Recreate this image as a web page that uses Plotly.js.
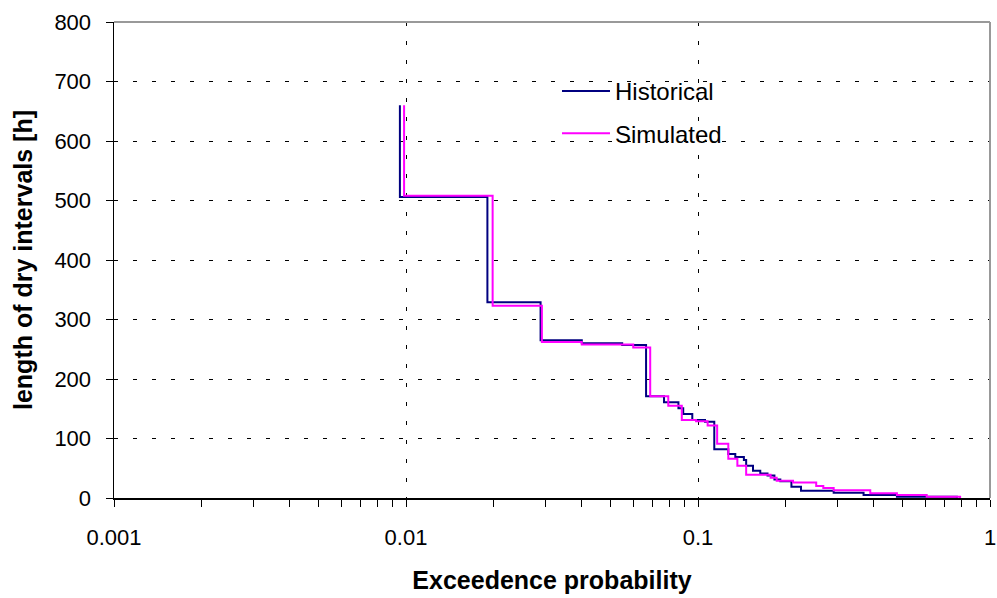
<!DOCTYPE html>
<html>
<head>
<meta charset="utf-8">
<script src="https://cdn.plot.ly/plotly-3.0.1.min.js"></script>
<style>html,body{margin:0;padding:0;background:#fff;}#chart{width:997px;height:598px;}</style>
</head>
<body>
<div id="chart"></div>
<script>
// Step points: (exceedance probability at which level starts, length of dry interval [h])
const histProb = [0.00953, 0.00953, 0.0190, 0.0289, 0.0400, 0.0550, 0.0664, 0.0765, 0.0857, 0.0890, 0.0956, 0.1057, 0.1137, 0.127, 0.1342, 0.1436, 0.1462, 0.1543, 0.1634, 0.173, 0.1827, 0.1914, 0.2089, 0.2253, 0.2915, 0.369, 0.48, 0.77];
const histLen  = [660,     506,     329,    265,    260,    257,    171,    161,    151,    141,    131,    128,    82,     74,    69,     64,     54,     46,     41,     38,    31,     28,     19,     12,     9,      5,     2,    0];

const simProb = [0.00985, 0.00985, 0.0198, 0.0292, 0.0400, 0.0600, 0.0686, 0.0791, 0.0880, 0.0985, 0.1079, 0.1163, 0.127, 0.1364, 0.1462, 0.1773, 0.186, 0.2115, 0.254, 0.2686, 0.2915, 0.389, 0.48, 0.607, 0.79];
const simLen  = [660,     508,     323,    262,    258,    253,    171,    155,    131,    129,    122,    91,     66,    54,     39,     34,     29,    26,     20,    17,     13,     8,     5,    2,     0];

const xTickVals = [0.001, 0.01, 0.1, 1];
const xTickText = ['0.001', '0.01', '0.1', '1'];
const seriesNames = ['Historical', 'Simulated'];

const FONT = 'Liberation Sans, Arial, sans-serif';

const traces = [
  {x: histProb, y: histLen, name: seriesNames[0], mode: 'lines', line: {shape: 'hv', color: '#000080', width: 2}, legendgroup: 'a'},
  {x: simProb, y: simLen, name: seriesNames[1], mode: 'lines', line: {shape: 'hv', color: '#FF00FF', width: 2}, legendgroup: 'b'}
];

const layout = {
  width: 997, height: 598,
  margin: {l: 114, r: 7, t: 22, b: 100, pad: 0},
  paper_bgcolor: '#fff', plot_bgcolor: '#fff',
  font: {family: FONT, color: '#000', size: 22},
  showlegend: true,
  legend: {
    x: 0.5057, y: 0.9015, xanchor: 'left', yanchor: 'top',
    bgcolor: 'rgba(0,0,0,0)', borderwidth: 0,
    font: {family: FONT, size: 24, color: '#000'},
    traceorder: 'grouped', tracegroupgap: 8, itemwidth: 48
  },
  xaxis: {
    type: 'log', range: [-3, 0],
    tickmode: 'array', tickvals: xTickVals, ticktext: xTickText,
    ticks: 'outside', ticklen: 7, tickwidth: 1, tickcolor: '#000',
    showline: true, linecolor: '#000', linewidth: 1.5,
    showgrid: true, gridcolor: '#000', gridwidth: 1, griddash: '4px,15px',
    minor: {ticks: 'outside', ticklen: 7, tickwidth: 1, tickcolor: '#000', dtick: 'D1', showgrid: false},
    tickfont: {family: FONT, size: 22, color: '#000'},
    ticklabelstandoff: 12,
    zeroline: false,
    title: {text: 'Exceedence probability', font: {family: FONT, size: 25, color: '#000', weight: 'bold'}, standoff: 22}
  },
  yaxis: {
    range: [0, 800], dtick: 100, tick0: 0,
    ticks: 'outside', ticklen: 7, tickwidth: 1, tickcolor: '#000',
    showline: true, linecolor: '#000', linewidth: 1.5,
    showgrid: true, gridcolor: '#000', gridwidth: 1, griddash: '4px,15px',
    tickfont: {family: FONT, size: 22, color: '#000'},
    ticklabelstandoff: 10,
    zeroline: false,
    title: {text: 'length of dry intervals [h]', font: {family: FONT, size: 25, color: '#000', weight: 'bold'}, standoff: 14}
  },
  shapes: [
    {type: 'line', xref: 'paper', yref: 'paper', x0: 0, x1: 1, y0: 1, y1: 1, line: {color: '#999', width: 2}},
    {type: 'line', xref: 'paper', yref: 'paper', x0: 1, x1: 1, y0: 0, y1: 1, line: {color: '#999', width: 2}}
  ]
};

Plotly.newPlot('chart', traces, layout, {displayModeBar: false, staticPlot: true});
</script>
</body>
</html>
